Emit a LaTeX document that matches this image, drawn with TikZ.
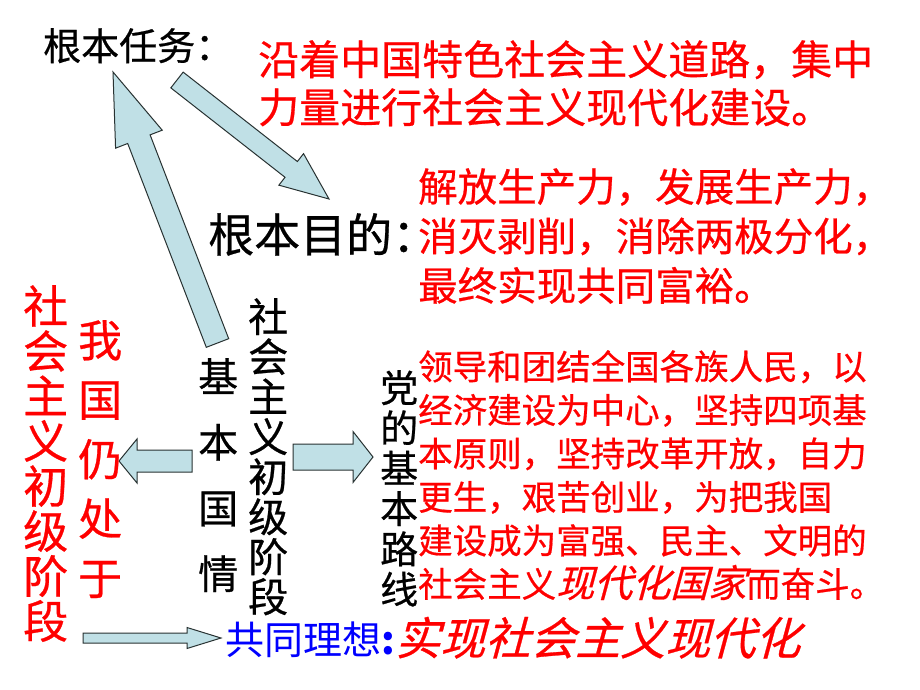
\documentclass[tikz,border=0pt]{standalone}
\usepackage{fontspec}
\setmainfont{Noto Sans CJK SC}[UprightFeatures={FakeBold=0.6}]
\newfontfamily\slantcjk{Noto Sans CJK SC}[UprightFeatures={FakeSlant=0.27, FakeBold=0.6}]
\newfontfamily\plaincjk{Noto Sans CJK SC}
\usetikzlibrary{calc,
                positioning}

\definecolor{arrowfill}{RGB}{192,224,230}
\definecolor{arrowline}{RGB}{40,50,50}

\tikzset{
  txt/.style={inner sep=0pt, anchor=north west, align=left},
  vtxt/.style={inner sep=0pt, anchor=north west, align=center},
  fat/.style={draw=arrowline, fill=arrowfill, line width=1pt, line join=miter}
}
\newcommand{\fs}[2]{\fontsize{#1}{#2}\selectfont}
\newcommand{\fatarrow}[5]{%
  \coordinate (h) at ($(#2)!#5!(#1)$);
  \draw[fat] ($(#1)!#3!90:(#2)$) -- ($(h)!#3!-90:(#1)$) -- ($(h)!#4!-90:(#1)$) -- (#2)
    -- ($(h)!#4!90:(#1)$) -- ($(h)!#3!90:(#1)$) -- ($(#1)!#3!-90:(#2)$) -- cycle;
}

\begin{document}
\begin{tikzpicture}[x=1pt, y=-1pt]
    \fill[white] (0,0) rectangle (920,690);
    \useasboundingbox (0,0) rectangle (920,690);

    \coordinate (a1s) at (177,80);
    \coordinate (a1e) at (329,199);
    \coordinate (a2s) at (217.5,343);
    \coordinate (a2e) at (113,72);
    \coordinate (a3s) at (192,461);
    \coordinate (a3e) at (119,461);
    \coordinate (a4s) at (293,457);
    \coordinate (a4e) at (373,457);
    \coordinate (a5s) at (83,638);
    \coordinate (a5e) at (221,638);

    \fatarrow{a1s}{a1e}{10pt}{20pt}{48pt}
    \fatarrow{a2s}{a2e}{12pt}{25pt}{72pt}
    \fatarrow{a3s}{a3e}{11pt}{22pt}{18pt}
    \fatarrow{a4s}{a4e}{13pt}{25.5pt}{20pt}
    \fatarrow{a5s}{a5e}{5pt}{10.5pt}{34pt}

    \node[txt, font=\fs{38}{46}] (task) at (43,28) {根本任务：};
    \node[txt, text=red, font=\fs{41}{48}] (mission) at (258,40)
        {沿着中国特色社会主义道路，集中\\力量进行社会主义现代化建设。};

    \node[txt, font=\fs{46}{50}] (purpose) at (208,213) {根本目的：};
    \node[txt, text=red, font=\fs{39.5}{49.5}] (purposetext) at (418,168)
        {解放生产力，发展生产力，\\消灭剥削，消除两极分化，\\最终实现共同富裕。};

    \node[vtxt, text=red, font=\fs{45}{45}] (stageleft) at (23,285) {社\\会\\主\\义\\初\\级\\阶\\段};
    \node[vtxt, text=red, font=\fs{44}{59.5}] (country) at (78,320) {我\\国\\仍\\处\\于};
    \node[vtxt, font=\fs{40}{65.7}] (condition) at (198,358) {基\\本\\国\\情};
    \node[vtxt, font=\fs{40}{40}] (stage) at (248,298) {社\\会\\主\\义\\初\\级\\阶\\段};
    \node[vtxt, font=\fs{38}{40.3}] (partyline) at (380,370) {党\\的\\基\\本\\路\\线};

    \node[txt, text=red, font=\fs{34.5}{43.5}] (linetext) at (418,350)
        {领导和团结全国各族人民，以\\经济建设为中心，坚持四项基\\本原则，坚持改革开放，自力\\更生，艰苦创业，为把我国\\建设成为富强、民主、文明的\\社会主义{\slantcjk\fs{38}{43.5}现代化国家}而奋斗。};

    \node[txt, text=blue, font=\plaincjk\fs{39}{44}] (ideal) at (225,622) {共同理想{\bfseries:}};
    \node[anchor=base west, inner sep=0pt, text=red, font=\slantcjk\fs{45}{50}] (idealtext)
        at (ideal.base east) {实现社会主义现代化};
\end{tikzpicture}
\end{document}
